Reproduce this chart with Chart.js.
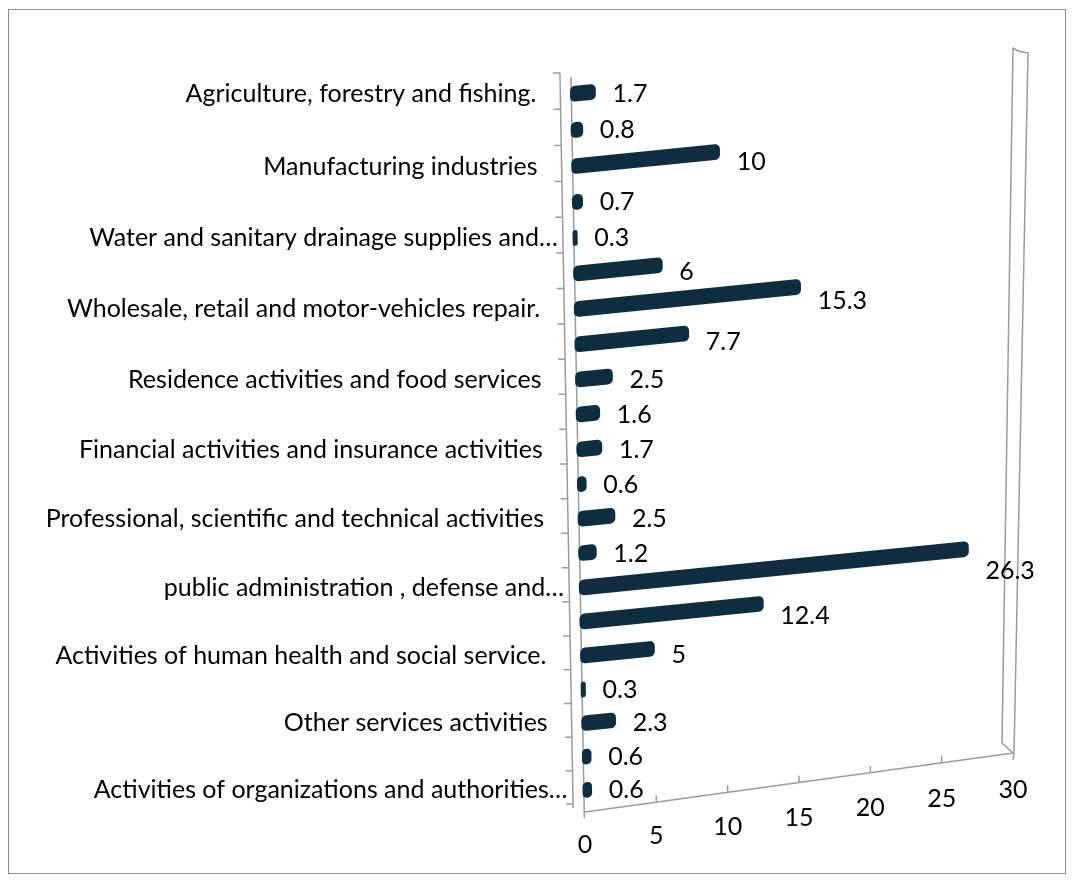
<!DOCTYPE html>
<html>
<head>
<meta charset="utf-8">
<title>Employment by economic activity (%)</title>
<script src="https://cdn.jsdelivr.net/npm/chart.js@4.4.1/dist/chart.umd.min.js"></script>
<style>
  html, body { margin: 0; padding: 0; background: #ffffff; }
  canvas { display: block; }
</style>
</head>
<body>
<canvas id="chart" width="1074" height="882"></canvas>
<script>
// Economic activities (only every other one is labelled on the axis)
const categories = [
  'Agriculture, forestry and fishing.', '',
  'Manufacturing industries', '',
  'Water and sanitary drainage supplies and\u2026', '',
  'Wholesale, retail and motor-vehicles repair.', '',
  'Residence activities and food services', '',
  'Financial activities and insurance activities', '',
  'Professional, scientific and technical activities', '',
  'public administration , defense and\u2026', '',
  'Activities of human health and social service.', '',
  'Other services activities', '',
  'Activities of organizations and authorities\u2026'
];

// Share of each activity (%)
const shares = [1.7, 0.8, 10, 0.7, 0.3, 6, 15.3, 7.7, 2.5, 1.6, 1.7, 0.6, 2.5, 1.2, 26.3, 12.4, 5, 0.3, 2.3, 0.6, 0.6];

// Value axis tick labels
const valueTicks = [0, 5, 10, 15, 20, 25, 30];

const FONT = 'Lato, "Open Sans", sans-serif';
const FONT_SIZE = 25;
const BAR_COLOR = '#0f2d41';
const LINE_COLOR = '#9b9b9b';
const SLANT_X = 0.018;  // the zero line drifts right toward the bottom
const SLANT_Y = -0.1;   // bars rise toward the right
const DEPTH = 0.045;    // rows get slightly closer together toward the bottom

// Category scale whose rows shrink a little with depth
class DepthCategoryScale extends Chart.CategoryScale {
  getPixelForDecimal(decimal) {
    return super.getPixelForDecimal(decimal + DEPTH * decimal * (1 - decimal));
  }
}
DepthCategoryScale.id = 'depthCategory';
DepthCategoryScale.defaults = Chart.CategoryScale.defaults;
Chart.register(DepthCategoryScale);

function axisX(area, yy) {
  return area.left - 10 + SLANT_X * (yy - area.top);
}

function drawFrame(chart) {
  const { ctx, chartArea: area, scales: { x, y } } = chart;
  const { top, bottom, left, right } = area;
  const n = categories.length;

  ctx.save();
  ctx.strokeStyle = LINE_COLOR;
  ctx.lineWidth = 1.5;
  ctx.lineJoin = 'round';

  // category axis and its row boundary ticks
  ctx.beginPath();
  ctx.moveTo(axisX(area, top - 3), top - 3);
  ctx.lineTo(axisX(area, bottom + 1), bottom + 1);
  for (let i = 0; i <= n; i++) {
    const yy = Math.min(y.getPixelForDecimal(i / n) - 3, bottom + 1);
    ctx.moveTo(axisX(area, yy) - 7, yy);
    ctx.lineTo(axisX(area, yy), yy);
  }
  ctx.stroke();

  // front edge of the base
  ctx.beginPath();
  ctx.moveTo(left + 1, top + 1);
  ctx.lineTo(left + 1 + SLANT_X * (bottom + 11 - top), bottom + 11);
  ctx.stroke();

  // floor edge with value ticks
  const f0 = { x: left + 15, y: bottom + 5 };
  const f1 = { x: right - 1, y: bottom - 54 };
  ctx.beginPath();
  ctx.moveTo(f0.x, f0.y);
  ctx.lineTo(f1.x, f1.y);
  valueTicks.forEach(v => {
    const t = (x.getPixelForValue(v) - left) / (right - left);
    const px = f0.x + (f1.x - f0.x) * t;
    const py = f0.y + (f1.y - f0.y) * t;
    if (v > 0 && v < 30) {
      ctx.moveTo(px, py);
      ctx.lineTo(px, py - 7);
    }
  });
  ctx.stroke();

  // back wall
  ctx.beginPath();
  ctx.moveTo(right - 12, bottom - 64);
  ctx.lineTo(right - 1, top - 28);
  ctx.lineTo(right + 4, top - 25);
  ctx.lineTo(right + 14, top - 23);
  ctx.lineTo(right, bottom - 54);
  ctx.lineTo(right - 1, bottom - 47);
  ctx.moveTo(right - 12, bottom - 64);
  ctx.lineTo(right - 1, bottom - 54);
  ctx.stroke();

  // value tick labels under the floor edge
  ctx.fillStyle = '#000000';
  ctx.font = FONT_SIZE + 'px ' + FONT;
  ctx.textAlign = 'center';
  ctx.textBaseline = 'middle';
  valueTicks.forEach(v => {
    const t = (x.getPixelForValue(v) - left) / (right - left);
    const px = f0.x + (f1.x - f0.x) * t;
    const py = f0.y + (f1.y - f0.y) * t;
    ctx.fillText(String(v), px, py + 33 + 4 * t);
  });
  ctx.restore();
}

function drawValueLabels(chart) {
  const { ctx, chartArea: { top }, scales: { x } } = chart;
  const x0 = x.getPixelForValue(0);
  const meta = chart.getDatasetMeta(0);
  ctx.save();
  ctx.font = FONT_SIZE + 'px ' + FONT;
  ctx.fillStyle = '#000000';
  ctx.textAlign = 'left';
  ctx.textBaseline = 'middle';
  meta.data.forEach((bar, i) => {
    const len = bar.x - x0;
    const endX = bar.x + SLANT_X * (bar.y - top);
    const labelY = bar.y + SLANT_Y * 0.5 * Math.max(0, len - 60);
    ctx.fillText(String(shares[i]), endX + 17, labelY);
  });
  ctx.restore();
}

function drawCategoryLabels(chart) {
  const { ctx, chartArea: area, scales: { y } } = chart;
  ctx.save();
  ctx.font = FONT_SIZE + 'px ' + FONT;
  ctx.fillStyle = '#000000';
  ctx.textAlign = 'left';
  ctx.textBaseline = 'middle';
  categories.forEach((label, i) => {
    if (!label) return;
    const yy = y.getPixelForValue(i);
    const anchor = axisX(area, yy) - 24;
    const core = label.endsWith('\u2026') ? label.slice(0, -1) : label;
    ctx.fillText(label, anchor - ctx.measureText(core).width, yy);
  });
  ctx.restore();
}

const perspective = {
  id: 'perspective',
  beforeDraw(chart) {
    const ctx = chart.ctx;
    ctx.save();
    ctx.strokeStyle = '#8c8c8c';
    ctx.lineWidth = 1;
    ctx.strokeRect(8.5, 9.5, 1057, 864);
    ctx.restore();
    drawFrame(chart);
  },
  beforeDatasetsDraw(chart) {
    const { ctx, chartArea, scales } = chart;
    const x0 = scales.x.getPixelForValue(0);
    ctx.save();
    ctx.transform(1, SLANT_Y, SLANT_X, 1, -SLANT_X * chartArea.top, -SLANT_Y * x0);
  },
  afterDatasetsDraw(chart) {
    chart.ctx.restore();
    drawValueLabels(chart);
    drawCategoryLabels(chart);
  }
};

new Chart(document.getElementById('chart'), {
  type: 'bar',
  data: {
    labels: categories,
    datasets: [{
      data: shares,
      backgroundColor: BAR_COLOR,
      barThickness: 15,
      borderRadius: 5,
      borderSkipped: false,
      clip: false
    }]
  },
  options: {
    indexAxis: 'y',
    responsive: false,
    animation: false,
    devicePixelRatio: 1,
    layout: { padding: { left: 570, right: 60, top: 76, bottom: 75 } },
    scales: {
      x: { type: 'linear', min: 0, max: 30, display: false },
      y: { type: 'depthCategory', display: false }
    },
    plugins: {
      legend: { display: false },
      tooltip: { enabled: false }
    }
  },
  plugins: [perspective]
});
</script>
</body>
</html>
